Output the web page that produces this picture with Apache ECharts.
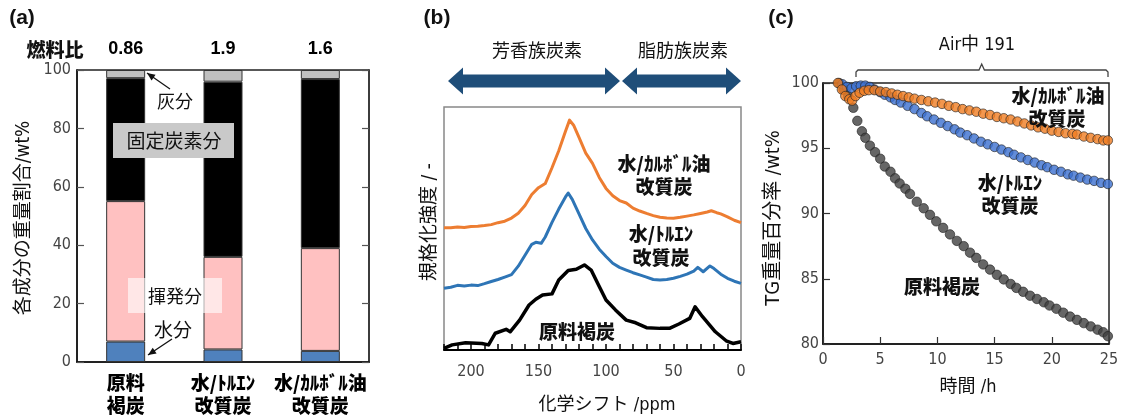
<!DOCTYPE html>
<html><head><meta charset="utf-8">
<script src="https://cdn.jsdelivr.net/npm/echarts@6/dist/echarts.min.js"></script>
<style>html,body{margin:0;padding:0;background:#fff}#c{width:1122px;height:416px}</style>
</head><body><div id="c"></div>
<script>
// ---------- (a) proximate analysis ----------
const categoriesA = ['原料\n褐炭', '水/ﾄﾙｴﾝ\n改質炭', '水/ｶﾙﾎﾞﾙ油\n改質炭'];
const fuelRatio = ['0.86', '1.9', '1.6'];
const moisture = [7.0, 4.3, 3.8];
const volatileMatter = [48.1, 31.7, 35.2];
const fixedCarbon = [42.1, 60.0, 57.9];
const ash = [2.8, 4.0, 3.1];
const ticksA = [0, 20, 40, 60, 80, 100];

// ---------- (b) 13C-NMR spectra ----------
const ppmOrange = [220,215,210,205,200,195,190,185,180,175,170,165,160,155,150,145,140,135,130,127,124,120,115,110,105,100,95,90,85,80,75,70,65,60,55,50,45,40,35,30,25,22,18,15,10,5,0];
const intOrange = [50.3,50.3,50.6,50.4,50.8,50.9,51.2,51.6,52.4,53.0,54.3,56.3,59.5,64.0,66.8,68.5,75.0,82.0,90.0,94.6,92.5,87.5,81.0,76.8,71.0,66.5,63.5,61.5,60.5,58.4,57.2,56.2,55.3,54.6,54.3,54.2,54.6,55.1,55.6,56.2,56.8,57.3,56.5,56.0,54.8,53.4,52.4];
const ppmBlue = [220,215,210,205,200,195,190,185,180,175,170,165,160,155,152,148,145,140,135,130,128,125,120,115,110,105,100,95,90,85,80,75,70,65,60,55,50,45,40,35,32,28,23,20,15,10,5,0];
const intBlue = [25.4,25.8,26.6,26.3,26.7,26.5,27.3,28.2,29.0,30.0,31.0,34.5,39.0,43.5,44.3,43.9,46.5,52.5,58.0,63.0,64.6,62.0,56.0,50.0,45.3,41.5,38.5,35.7,34.0,32.9,31.8,30.9,30.0,29.0,28.8,29.0,29.5,30.3,31.2,32.5,34.0,32.2,34.6,33.5,31.2,29.5,28.3,27.4];
const ppmBlack = [220,214,204,192,187,182,174,171,164,157,152,147,140,135,128,122,116,111,105,100,93,85,78,70,60,53,46,38,34,28.5,19,11,6,0];
const intBlack = [0.7,2.1,3.0,2.7,2.1,6.9,8.5,7.5,12.3,18.5,20.9,22.6,23.1,28.8,32.7,33.2,35.0,32.9,26.1,20.6,16.5,12.3,11.2,9.2,8.9,8.9,10.7,13.0,17.8,13.7,7.5,3.8,2.7,3.4];
const ppmTicks = [0, 50, 100, 150, 200];

// ---------- (c) TG in air ----------
const timeBlack = [1.4,1.8,2.2,2.65,3.0,3.4,3.7,4.1,4.55,5.0,5.4,5.9,6.3,6.7,7.2,7.6,8.2,8.8,9.35,9.9,10.5,11.1,11.7,12.3,12.85,13.4,14.0,14.6,15.2,15.8,16.4,16.9,17.5,18.1,18.7,19.3,19.8,20.4,21.0,21.6,22.2,22.8,23.4,24.0,24.5,24.9];
const tgBlack = [100.0,99.5,99.0,98.1,97.1,96.3,95.8,95.2,94.7,94.2,93.6,93.2,92.7,92.3,91.9,91.5,90.9,90.4,89.9,89.4,88.9,88.4,87.9,87.5,87.0,86.6,86.1,85.7,85.3,84.95,84.6,84.3,84.0,83.7,83.45,83.2,82.95,82.7,82.4,82.1,81.85,81.6,81.35,81.1,80.9,80.6];
const timeBlue = [1.7,2.1,2.5,2.9,3.3,3.7,4.1,4.5,5.0,5.4,5.9,6.3,6.8,7.4,8.0,8.6,9.1,9.7,10.3,10.9,11.5,12.0,12.6,13.2,13.8,14.4,15.0,15.6,16.2,16.7,17.3,17.9,18.5,19.1,19.6,20.2,20.8,21.4,21.9,22.5,23.1,23.7,24.3,24.9];
const tgBlue = [99.9,99.7,99.6,99.75,99.8,99.8,99.7,99.5,99.3,99.1,98.9,98.7,98.5,98.25,98.0,97.7,97.45,97.2,96.95,96.7,96.45,96.2,96.0,95.75,95.5,95.3,95.1,94.9,94.7,94.5,94.3,94.1,93.9,93.7,93.55,93.35,93.2,93.0,92.9,92.75,92.6,92.5,92.35,92.26];
const timeOrange = [1.3,1.65,1.95,2.3,2.55,2.85,3.2,3.6,4.0,4.5,5.0,5.5,6.0,6.5,7.0,7.5,8.0,8.6,9.2,9.8,10.4,11.0,11.6,12.2,12.8,13.4,14.0,14.6,15.2,15.8,16.4,17.0,17.6,18.2,18.8,19.4,20.0,20.6,21.2,21.8,22.2,22.8,23.4,24.0,24.5,24.9];
const tgOrange = [100.0,99.5,99.0,98.75,98.65,99.0,99.25,99.4,99.45,99.45,99.35,99.3,99.2,99.1,99.0,98.9,98.8,98.7,98.6,98.5,98.4,98.25,98.15,98.0,97.9,97.8,97.65,97.55,97.4,97.3,97.2,97.05,96.9,96.75,96.6,96.5,96.35,96.25,96.15,96.1,96.05,95.9,95.8,95.7,95.6,95.6];
const ticksC_x = [0, 5, 10, 15, 20, 25];
const ticksC_y = [80, 85, 90, 95, 100];

// ---------- styling ----------
const FN = "'Liberation Sans Narrow','DejaVu Sans Condensed','Noto Sans CJK JP',sans-serif";
const FJ = "'Noto Sans CJK JP',sans-serif";
const FB = "'Liberation Sans','Noto Sans CJK JP',sans-serif";
const HEAVY = 900;
const zip = (a, b) => a.map((v, i) => [v, b[i]]);

const gfx = [];
function T(x, y, text, size, weight, font, extra) {
  gfx.push(Object.assign({ type: 'text', x: x, y: y, z: 100,
    style: { text: text, fontSize: size, fontWeight: weight || 'normal', fontFamily: font || FJ,
      fill: '#111', align: 'center', verticalAlign: 'middle' } }, extra || {}));
}
function arrow(x1, y1, x2, y2) {
  gfx.push({ type: 'line', z: 100, shape: { x1: x1, y1: y1, x2: x2, y2: y2 }, style: { stroke: '#111', lineWidth: 1.3 } });
  const dx = x2 - x1, dy = y2 - y1, L = Math.hypot(dx, dy), ux = dx / L, uy = dy / L;
  const bx = x2 - 8 * ux, by = y2 - 8 * uy, px = -uy * 3.5, py = ux * 3.5;
  gfx.push({ type: 'polygon', z: 100, shape: { points: [[x2, y2], [bx + px, by + py], [bx - px, by - py]] }, style: { fill: '#111' } });
}
function dblArrow(xl, xr, yc) {
  const h = 15, s = 6.5, w = 13.5;
  gfx.push({ type: 'polygon', z: 100, shape: { points: [[xl, yc], [xl + h, yc - w], [xl + h, yc - s], [xr - h, yc - s], [xr - h, yc - w], [xr, yc], [xr - h, yc + w], [xr - h, yc + s], [xl + h, yc + s], [xl + h, yc + w]] }, style: { fill: '#1f4e79' } });
}

// panel titles
T(22, 18, '(a)', 21, 'bold', FB);
T(437, 18, '(b)', 21, 'bold', FB);
T(781, 18, '(c)', 21, 'bold', FB);
// (a) annotations
T(55, 50, '燃料比', 19, HEAVY, FJ);
gfx.push({ type: 'rect', z: 99, shape: { x: 113, y: 123, width: 121, height: 35 }, style: { fill: '#c9c9c9' } });
gfx.push({ type: 'rect', z: 99, shape: { x: 128, y: 278, width: 94, height: 35 }, style: { fill: 'rgba(255,255,255,0.62)' } });
T(174, 141, '固定炭素分', 19, 'normal');
T(175, 296, '揮発分', 18, 'normal');
T(175, 101, '灰分', 18, 'normal');
T(173, 330, '水分', 19, 'normal');
arrow(170, 89, 147, 73);
arrow(172, 339, 148, 355);
T(24, 218, '各成分の重量割合/wt%', 19, 'normal', FN, { rotation: Math.PI / 2 });
// (b) annotations
dblArrow(448, 620, 81);
dblArrow(622, 741, 81);
T(537, 50, '芳香族炭素', 18, 'normal');
T(683, 50, '脂肪族炭素', 18, 'normal');
T(664, 164, '水/ｶﾙﾎﾞﾙ油', 19, HEAVY);
T(664, 187, '改質炭', 19, HEAVY);
T(661, 234, '水/ﾄﾙｴﾝ', 19, HEAVY);
T(661, 258, '改質炭', 19, HEAVY);
T(577, 332, '原料褐炭', 19, HEAVY);
T(430, 222, '規格化強度 / -', 19, 'normal', FN, { rotation: Math.PI / 2 });
T(607, 405, '化学シフト /ppm', 18, 'normal', FN);
// (c) annotations
T(977, 45, 'Air中 191', 18, 'normal', FN);
gfx.push({ type: 'polyline', z: 100, shape: { points: [[856, 77], [856, 72], [858, 70], [979, 70], [981.7, 64], [984.4, 70], [1106, 70], [1108, 72], [1108, 77]] }, style: { stroke: '#444', lineWidth: 1.3, fill: null } });
T(1058, 96, '水/ｶﾙﾎﾞﾙ油', 19, HEAVY);
T(1057, 119, '改質炭', 19, HEAVY);
T(1010, 183, '水/ﾄﾙｴﾝ', 19, HEAVY);
T(1010, 206, '改質炭', 19, HEAVY);
T(942, 287, '原料褐炭', 19, HEAVY);
T(774, 218, 'TG重量百分率 /wt%', 20, 'normal', FN, { rotation: Math.PI / 2 });
T(968, 387, '時間 /h', 18, 'normal', FN);

const tickLbl = { fontFamily: FN, fontSize: 16, color: '#444' };
const barBase = { type: 'bar', stack: 'a', xAxisIndex: 0, yAxisIndex: 0, barWidth: 39 };
const dot = (color) => ({ color: color, borderColor: '#222', borderWidth: 0.8 });

const option = {
  animation: false,
  backgroundColor: '#fff',
  grid: [
    { left: 77, top: 70, width: 292, height: 292, show: true, borderColor: '#222', borderWidth: 1.5, containLabel: false, outerBoundsMode: 'none' },
    { left: 444, top: 107, width: 297, height: 243, show: true, borderColor: '#888', borderWidth: 1.5, containLabel: false, outerBoundsMode: 'none' },
    { left: 823, top: 83, width: 286, height: 261, show: true, borderColor: '#222', borderWidth: 1.5, containLabel: false, outerBoundsMode: 'none' }
  ],
  xAxis: [
    { gridIndex: 0, type: 'category', data: categoriesA, position: 'bottom',
      axisLine: { lineStyle: { color: '#111', width: 1.5 } }, axisTick: { show: false },
      axisLabel: { interval: 0, margin: 9, fontFamily: FJ, fontWeight: HEAVY, fontSize: 19, lineHeight: 23, color: '#000' } },
    { gridIndex: 0, type: 'category', data: fuelRatio, position: 'top',
      axisLine: { show: false }, axisTick: { show: false },
      axisLabel: { interval: 0, margin: 12, fontFamily: FB, fontWeight: 'bold', fontSize: 18, color: '#000' } },
    { gridIndex: 1, type: 'value', inverse: true, min: 0, max: 220, interval: 10,
      axisLine: { lineStyle: { color: '#000', width: 2 } },
      axisTick: { inside: true, length: 6, lineStyle: { color: '#000', width: 1.5 } },
      axisLabel: Object.assign({ margin: 14, formatter: v => ppmTicks.includes(v) ? String(v) : '' }, tickLbl),
      splitLine: { show: false } },
    { gridIndex: 2, type: 'value', min: ticksC_x[0], max: ticksC_x[ticksC_x.length - 1], interval: 5,
      axisLine: { lineStyle: { color: '#111', width: 1.5 } },
      axisTick: { inside: true, length: 7, lineStyle: { color: '#333', width: 1.2 } },
      axisLabel: Object.assign({ margin: 8 }, tickLbl), splitLine: { show: false } }
  ],
  yAxis: [
    { gridIndex: 0, type: 'value', min: ticksA[0], max: ticksA[ticksA.length - 1], interval: 20,
      axisLine: { show: true, lineStyle: { color: '#111', width: 1.5 } },
      axisTick: { show: true, inside: true, length: 7, lineStyle: { color: '#555', width: 1.2 } },
      axisLabel: Object.assign({ margin: 6 }, tickLbl), splitLine: { show: false } },
    { gridIndex: 0, type: 'value', position: 'right', min: 0, max: 100, interval: 20,
      axisLine: { show: true, lineStyle: { color: '#333', width: 1.5 } },
      axisTick: { show: true, inside: true, length: 7, lineStyle: { color: '#555', width: 1.2 } },
      axisLabel: { show: false }, splitLine: { show: false } },
    { gridIndex: 1, type: 'value', min: 0, max: 100, show: false, splitLine: { show: false } },
    { gridIndex: 2, type: 'value', min: ticksC_y[0], max: ticksC_y[ticksC_y.length - 1], interval: 5,
      axisLine: { show: true, lineStyle: { color: '#111', width: 1.5 } },
      axisTick: { show: true, inside: true, length: 7, lineStyle: { color: '#333', width: 1.2 } },
      axisLabel: Object.assign({ margin: 4 }, tickLbl), splitLine: { show: false } }
  ],
  series: [
    Object.assign({ name: '水分', data: moisture }, barBase, { itemStyle: { color: '#4f81bd', borderColor: '#333', borderWidth: 1 } }),
    Object.assign({ name: '揮発分', data: volatileMatter }, barBase, { itemStyle: { color: '#ffc1c1', borderColor: '#333', borderWidth: 1 } }),
    Object.assign({ name: '固定炭素分', data: fixedCarbon }, barBase, { itemStyle: { color: '#000', borderColor: '#333', borderWidth: 1 } }),
    Object.assign({ name: '灰分', data: ash }, barBase, { itemStyle: { color: '#c0c0c0', borderColor: '#333', borderWidth: 1 } }),

    { type: 'line', xAxisIndex: 2, yAxisIndex: 2, data: zip(ppmBlack, intBlack), showSymbol: false, smooth: false,
      lineStyle: { color: '#000', width: 3.5, join: 'round' } },
    { type: 'line', xAxisIndex: 2, yAxisIndex: 2, data: zip(ppmBlue, intBlue), showSymbol: false, smooth: false,
      lineStyle: { color: '#2e75b6', width: 3, join: 'round' } },
    { type: 'line', xAxisIndex: 2, yAxisIndex: 2, data: zip(ppmOrange, intOrange), showSymbol: false, smooth: false,
      lineStyle: { color: '#ed7d31', width: 3, join: 'round' } },

    { type: 'scatter', xAxisIndex: 3, yAxisIndex: 3, data: zip(timeBlack, tgBlack), symbolSize: 9.5, itemStyle: dot('#404040') },
    { type: 'scatter', xAxisIndex: 3, yAxisIndex: 3, data: zip(timeBlue, tgBlue), symbolSize: 9.5, itemStyle: dot('#3b6fd0') },
    { type: 'scatter', xAxisIndex: 3, yAxisIndex: 3, data: zip(timeOrange, tgOrange), symbolSize: 9.5, itemStyle: dot('#f07d22') }
  ],
  graphic: gfx
};
const chart = echarts.init(document.getElementById('c'), null, { renderer: 'canvas' });
chart.setOption(option);
</script></body></html>
